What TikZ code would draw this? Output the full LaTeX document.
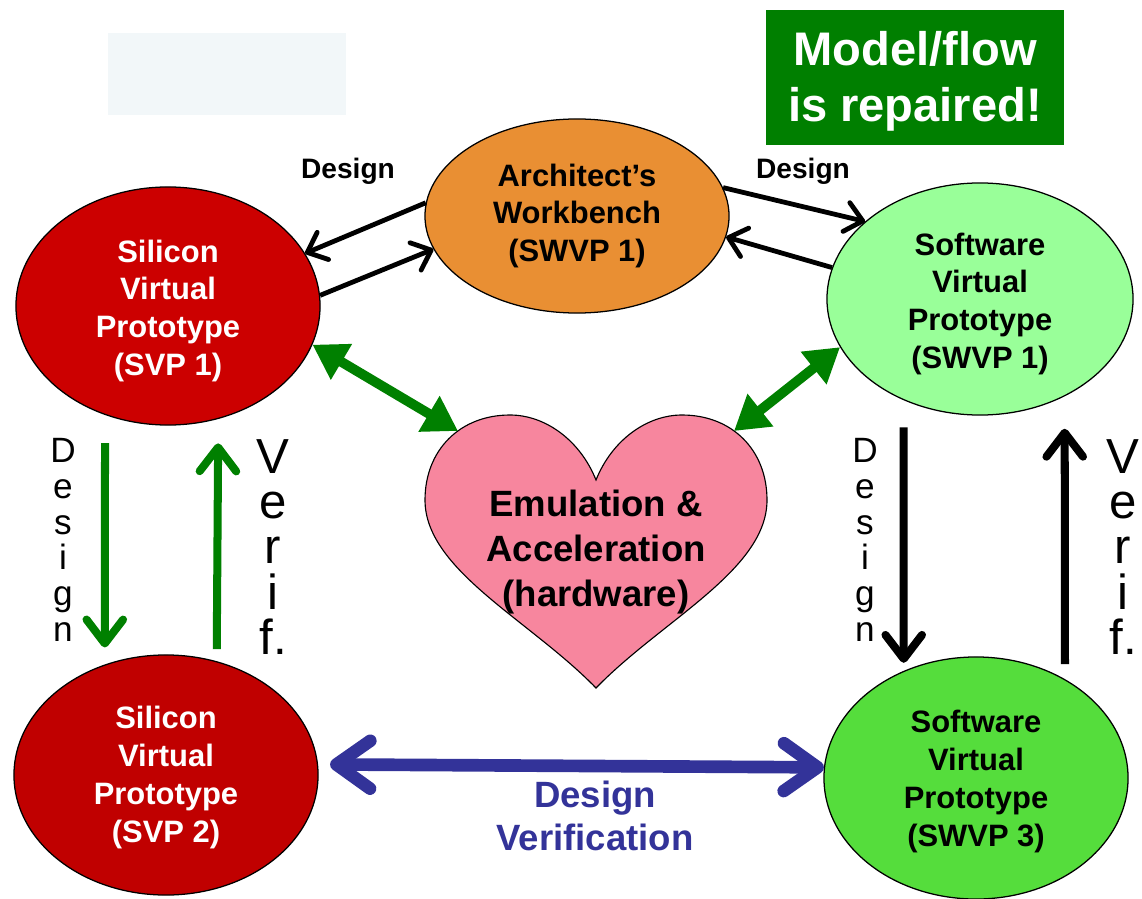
\documentclass[tikz,border=0pt]{standalone}
\usepackage{fontspec}
\setmainfont{Liberation Sans}
\usetikzlibrary{arrows.meta,shapes.geometric,positioning}
\definecolor{svpred}{HTML}{CC0000}
\definecolor{svpdark}{HTML}{C00000}
\definecolor{archorange}{HTML}{E98F33}
\definecolor{swlight}{HTML}{99FF99}
\definecolor{swgreen}{HTML}{55DD3C}
\definecolor{heartpink}{HTML}{F7869E}
\definecolor{boxgreen}{HTML}{007F00}
\definecolor{arrgreen}{HTML}{008000}
\definecolor{dvblue}{HTML}{333399}
\definecolor{paleblue}{HTML}{F2F7F9}
\newcommand{\dropline}[1]{\rule{0pt}{#1}}

\begin{document}
\begin{tikzpicture}[x=0.025cm,y=-0.025cm,
  proto/.style={ellipse,draw=black,line width=0.9pt,inner sep=0pt,align=center,minimum width=7.6cm,font=\bfseries\fontsize{22}{27}\selectfont},
  lbl/.style={inner sep=0pt,font=\bfseries\fontsize{20}{24}\selectfont},
  thinarr/.style={line width=3.4pt,-{Straight Barb[round,length=12pt,width=21pt]}},
  vertarr/.style={line width=5.7pt,-{Straight Barb[round,length=17pt,width=26pt]}},
  fatarr/.style={draw=arrgreen,line width=7pt,{Triangle[length=24pt,width=28pt]}-{Triangle[length=24pt,width=28pt]}},
  dvarr/.style={draw=dvblue,line width=9pt,{Straight Barb[round,length=24pt,width=34pt]}-{Straight Barb[round,length=24pt,width=34pt]}},
  vletter/.style={align=center,inner sep=0pt,font=\fontsize{25}{25.4}\selectfont},
  bigletter/.style={align=center,inner sep=0pt,font=\fontsize{35}{32.3}\selectfont}]
\useasboundingbox (0,0) rectangle (1142,899);
% draw boxes at the top
\node[fill=paleblue,minimum width=5.95cm,minimum height=2.05cm] (blank) at (227,74) {};
\node[fill=boxgreen,text=white,minimum width=7.45cm,minimum height=3.375cm,align=center,font=\bfseries\fontsize{33.5}{40}\selectfont] (fixed) at (915,77.5) {\dropline{30pt}Model/flow\\is repaired!};
% draw prototypes
\node[proto,fill=svpred,text=white,minimum height=5.95cm] (svpA) at (168,306) {\dropline{23pt}Silicon\\Virtual\\Prototype\\(SVP 1)};
\node[proto,fill=archorange,minimum height=4.85cm] (arch) at (577,216) {Architect’s\\Workbench\\(SWVP 1)};
\node[proto,fill=swlight,minimum width=7.65cm,minimum height=5.8cm] (swA) at (980,299) {\dropline{23pt}Software\\Virtual\\Prototype\\(SWVP 1)};
\node[proto,fill=svpdark,text=white,minimum height=6cm] (svpB) at (166,775) {\dropline{20pt}Silicon\\Virtual\\Prototype\\(SVP 2)};
\node[proto,fill=swgreen,minimum height=6.05cm] (swB) at (976,778) {\dropline{21pt}Software\\Virtual\\Prototype\\(SWVP 3)};
% draw heart
\filldraw[fill=heartpink,draw=black,line width=0.8pt] (596,480)
  .. controls (580,440) and (545,415) .. (510,415)
  .. controls (460,415) and (425,450) .. (425,500)
  .. controls (425,570) and (530,620) .. (596,688)
  .. controls (662,620) and (767,570) .. (767,500)
  .. controls (767,450) and (732,415) .. (682,415)
  .. controls (647,415) and (612,440) .. (596,480) -- cycle;
\node[font=\bfseries\fontsize{26}{32}\selectfont,align=center,inner sep=0pt] (emu) at (596,552) {Emulation \&\\Acceleration\\(hardware)};
\coordinate (heartL) at (458,431);
\coordinate (heartR) at (734,431);
% draw labels
\node[lbl] (desL) at (348,171) {Design};
\node[lbl] (desR) at (803,171) {Design};
\node[vletter] (dsL) at (63,540) {D\\e\\s\\i\\g\\n};
\node[bigletter] (vfL) at (273,547) {V\\e\\r\\i\\f.};
\node[vletter] (dsR) at (865,540) {D\\e\\s\\i\\g\\n};
\node[bigletter] (vfR) at (1123,547) {V\\e\\r\\i\\f.};
\node[font=\bfseries\fontsize{26}{30.5}\selectfont,text=dvblue,align=center,inner sep=0pt] (dv) at (595,816) {Design\\Verification};
% draw arrows
\draw[thinarr] (arch.175) -- (svpA.21);
\draw[thinarr] (svpA.4) -- (arch.193);
\draw[thinarr] (arch.11) -- (swA.146);
\draw[thinarr] (swA.168) -- (arch.352);
\draw[fatarr] (svpA.345) -- (heartL);
\draw[fatarr] (heartR) -- (swA.199);
\draw[vertarr,arrgreen,shorten <=0.7cm,shorten >=0.425cm] (svpA.240) -- (svpB.119);
\draw[vertarr,arrgreen,shorten <=0.3cm,shorten >=0.61cm] (svpB.66) -- (svpA.294);
\draw[vertarr,shorten <=0.675cm,shorten >=0.2cm] (swA.233) -- (swB.124);
\draw[vertarr,shorten <=0.375cm,shorten >=0.81cm] (swB.48) -- (swA.311);
\draw[dvarr,shorten <=0.3cm] (svpB.4) -- (swB.176);
\end{tikzpicture}
\end{document}
